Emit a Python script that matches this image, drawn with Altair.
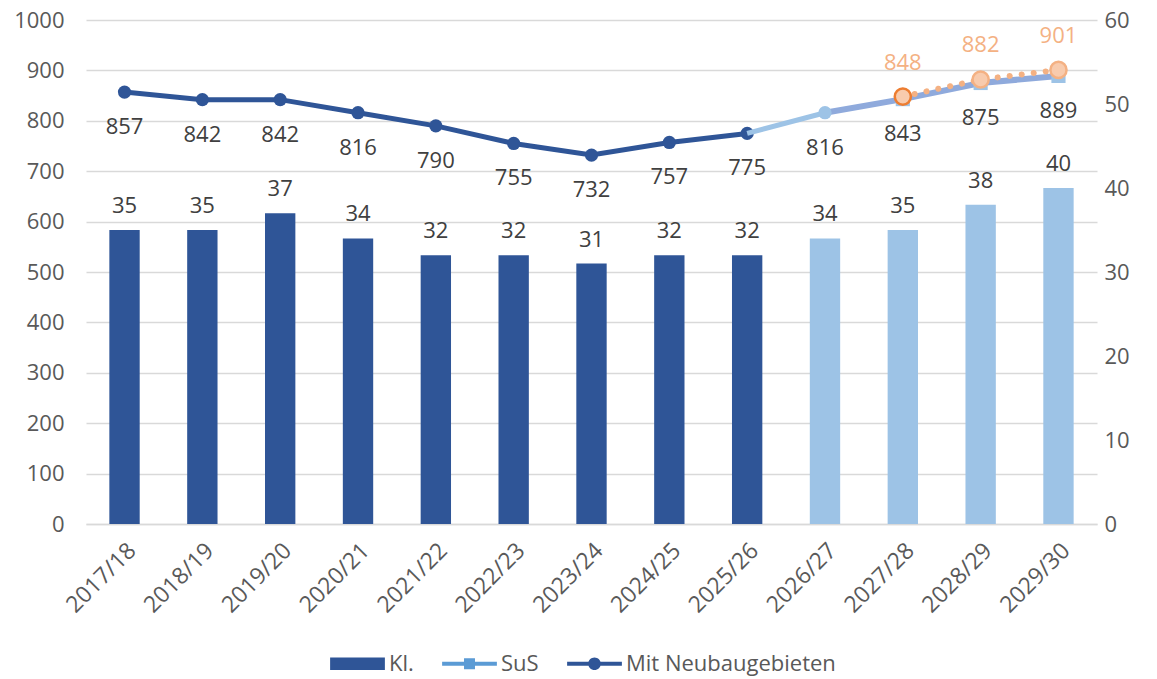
import altair as alt
import pandas as pd

years = ["2017/18", "2018/19", "2019/20", "2020/21", "2021/22", "2022/23", "2023/24",
         "2024/25", "2025/26", "2026/27", "2027/28", "2028/29", "2029/30"]
kl = [35, 35, 37, 34, 32, 32, 31, 32, 32, 34, 35, 38, 40]
sus = [857, 842, 842, 816, 790, 755, 732, 757, 775, 816, 843, 875, 889]
neubau_years = ["2027/28", "2028/29", "2029/30"]
neubau = [848, 882, 901]
legend_items = ["Kl.", "SuS", "Mit Neubaugebieten"]

FONT = "Open Sans"
DARK = "#2f5597"
LIGHT = "#9dc3e6"
MID = "#8faadc"
SUSBLUE = "#5b9bd5"
ORANGE = "#f4b183"
PEACH = "#f8cbad"
LABEL = "#404040"
AXIS = "#595959"
GRID = "#d9d9d9"

df = pd.DataFrame({"Jahr": years, "Kl": kl, "SuS": sus})
df["idx"] = range(len(df))
df_neu = pd.DataFrame({"Jahr": neubau_years, "Neu": neubau,
                       "stroke": ["#ed7d31", ORANGE, ORANGE]})
df_leg = pd.DataFrame({"s": legend_items})

x_axis = alt.Axis(orient="bottom", title=None, labelAngle=-45, labelAlign="right",
                  labelBaseline="top", labelFont=FONT, labelFontSize=23,
                  labelColor=AXIS, labelPadding=15, ticks=False, domain=True,
                  domainColor=GRID, domainWidth=1.5)
x_enc = alt.X("Jahr:N", sort=years, axis=x_axis,
              scale=alt.Scale(paddingInner=0.61, paddingOuter=0.3))

ybar_scale = alt.Scale(domain=[0, 60])
yl_scale = alt.Scale(domain=[0, 1000])
y_right = alt.Y("Kl:Q", scale=ybar_scale,
                axis=alt.Axis(orient="right", title=None, values=list(range(0, 61, 10)),
                              grid=False, ticks=False, domain=False, labelFont=FONT,
                              labelFontSize=22, labelColor=AXIS, labelPadding=7))
y_kl = alt.Y("Kl:Q", scale=ybar_scale, axis=None)
y_left = alt.Y("SuS:Q", scale=yl_scale,
               axis=alt.Axis(orient="left", title=None, values=list(range(0, 1001, 100)),
                             format="d", grid=True, gridColor=GRID, gridWidth=1.5,
                             ticks=False, domain=False, labelFont=FONT, labelFontSize=22,
                             labelColor=AXIS, labelPadding=22))
y_l = alt.Y("SuS:Q", scale=yl_scale, axis=None)
y_n = alt.Y("Neu:Q", scale=yl_scale, axis=None)

base = alt.Chart(df)
base_n = alt.Chart(df_neu)

grid_layer = base.mark_line(opacity=0).encode(x=x_enc, y=y_left)
bar_hist = base.transform_filter("datum.idx <= 8").mark_bar(color=DARK).encode(
    x=x_enc, y=y_right)
bar_proj = base.transform_filter("datum.idx > 8").mark_bar(color=LIGHT).encode(
    x=x_enc, y=y_kl)
bar_text = base.mark_text(font=FONT, fontSize=22, color=LABEL, baseline="middle",
                          dy=-24).encode(x=x_enc, y=y_kl, text="Kl:Q")

line_hist = base.transform_filter("datum.idx <= 8").mark_line(
    color=DARK, strokeWidth=5).encode(x=x_enc, y=y_l)
pts_hist = base.transform_filter("datum.idx <= 8").mark_point(
    filled=True, shape="circle", size=175, color=DARK, opacity=1).encode(x=x_enc, y=y_l)
line_trans = base.transform_filter("datum.idx >= 8 && datum.idx <= 9").mark_line(
    color=LIGHT, strokeWidth=5).encode(x=x_enc, y=y_l)
line_proj = base.transform_filter("datum.idx >= 9").mark_line(
    color=MID, strokeWidth=6).encode(x=x_enc, y=y_l)
pt_trans = base.transform_filter("datum.idx == 9").mark_point(
    filled=True, shape="circle", size=175, color=LIGHT, opacity=1).encode(x=x_enc, y=y_l)
pts_proj = base.transform_filter("datum.idx >= 10").mark_point(
    filled=True, shape="square", size=200, color=LIGHT, opacity=1).encode(x=x_enc, y=y_l)
sus_text = base.mark_text(font=FONT, fontSize=22, color=LABEL, baseline="middle",
                          dy=35).encode(x=x_enc, y=y_l, text="SuS:Q")

neu_line = base_n.mark_line(color=ORANGE, strokeWidth=6, strokeDash=[0.1, 12],
                            strokeCap="round").encode(x=x_enc, y=y_n)
neu_pts = base_n.mark_point(filled=True, shape="circle", size=260, fill=PEACH,
                            strokeWidth=2.5, opacity=1).encode(
    x=x_enc, y=y_n, stroke=alt.Stroke("stroke:N", scale=None))
neu_text = base_n.mark_text(font=FONT, fontSize=22, color=ORANGE, baseline="middle",
                            dy=-34).encode(x=x_enc, y=y_n, text="Neu:Q")

bar_sym = "M-1,-0.23H1V0.23H-1Z"
sus_sym = "M-1,-0.07H1V0.07H-1Z M-0.2,-0.2H0.2V0.2H-0.2Z"
mit_sym = ("M-1,-0.07H1V0.07H-1Z M-0.23,0A0.23,0.23 0 1,1 0.23,0"
           "A0.23,0.23 0 1,1 -0.23,0Z")
leg_opts = dict(title=None, orient="none", direction="horizontal", legendX=244,
                legendY=616, symbolSize=3000, symbolStrokeWidth=0, labelFont=FONT,
                labelFontSize=22, labelColor=AXIS, labelOffset=4, labelLimit=400,
                columnPadding=28, padding=0)
legend_layer = alt.Chart(df_leg).transform_filter("false").mark_point(
    filled=True, opacity=1).encode(
    color=alt.Color("s:N", scale=alt.Scale(domain=legend_items,
                                           range=[DARK, SUSBLUE, DARK]),
                    legend=alt.Legend(**leg_opts)),
    shape=alt.Shape("s:N", scale=alt.Scale(domain=legend_items,
                                           range=[bar_sym, sus_sym, mit_sym]),
                    legend=alt.Legend(**leg_opts)))

chart = alt.layer(
    bar_hist, grid_layer, bar_proj, bar_text,
    line_hist, pts_hist, line_trans, line_proj, pt_trans, pts_proj, sus_text,
    neu_line, neu_pts, neu_text, legend_layer,
).resolve_scale(
    y="independent"
).properties(
    width=1011, height=504,
    autosize=alt.AutoSizeParams(type="none"),
    padding={"left": 78, "top": 12, "right": 52, "bottom": 155},
    background="white",
).configure_view(stroke=None)

chart.save("out.html", embed_options={"renderer": "svg", "actions": False})
